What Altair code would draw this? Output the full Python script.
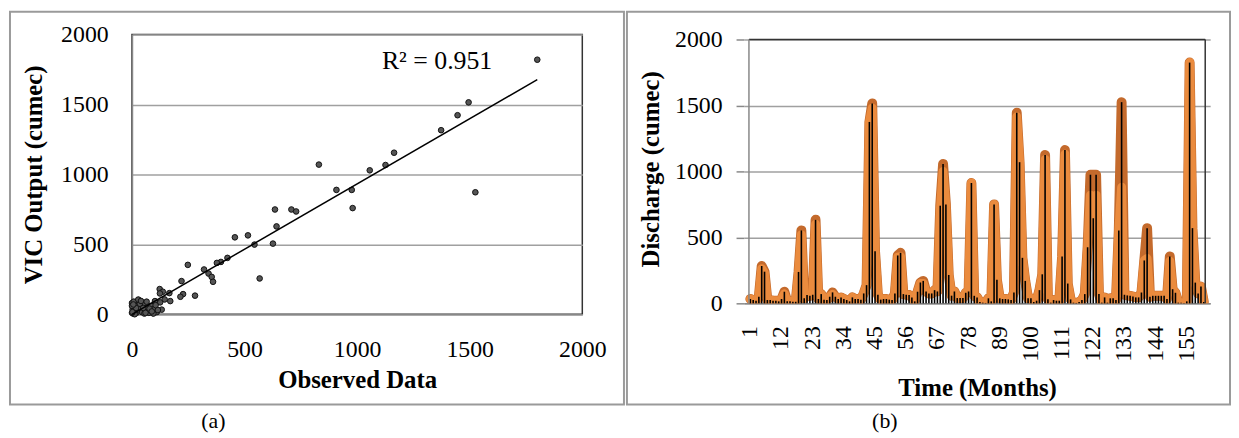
import altair as alt
import pandas as pd

FONT = "Liberation Serif"

# ---------------- (a) scatter data ----------------
scatter_observed = [1800, 1495, 1446, 1373, 1525, 1164, 1126, 1056, 830, 908,
                    976, 980, 635, 708, 729, 642, 626, 544, 515, 457,
                    567, 424, 395, 377, 320, 340, 354, 360, 248, 220,
                    280, 227, 215, 123, 137, 166, 124, 145, 170, 125,
                    102, 132, 93, 29, 0,
                    5, 10, 15, 20, 25, 30, 40, 45, 50, 60,
                    70, 75, 80, 85, 90, 100, 110, 5, 8, 3,
                    12, 18, 35, 55, 65, 95, 0, 0, 28, 40,
                    2, 6, 50, 60, 115, 105, 78, 88]
scatter_vic = [1820, 1515, 1423, 1316, 872, 1155, 1067, 1029, 1070, 889,
               889, 759, 749, 749, 735, 628, 505, 498, 564, 550,
               256, 403, 374, 367, 320, 291, 267, 232, 353, 237,
               133, 144, 125, 180, 161, 151, 149, 106, 94, 85,
               94, 33, 8, 101, 80,
               20, 50, 80, 10, 60, 30, 40, 15, 70, 25,
               50, 10, 30, 60, 20, 40, 15, 5, 90, 35,
               0, 45, 75, 5, 90, 5, 60, 10, 105, 95,
               15, 70, 45, 10, 30, 65, 40, 20]
axis_ticks = [0, 500, 1000, 1500, 2000]
r2_label = "R² = 0.951"

# ---------------- (b) time series data ----------------
discharge_bars = [33, 25, 20, 50, 283, 240, 25, 25, 20, 20,
                  15, 33, 88, 15, 15, 12, 12, 238, 553, 38,
                  63, 57, 65, 633, 33, 70, 28, 25, 50, 83,
                  50, 33, 45, 33, 25, 15, 45, 33, 33, 28,
                  75, 138, 1375, 1515, 395, 65, 28, 33, 33, 28,
                  25, 75, 363, 383, 70, 65, 63, 45, 15, 88,
                  158, 170, 90, 75, 75, 100, 90, 740, 1057, 750,
                  215, 58, 90, 40, 40, 40, 80, 90, 912, 57,
                  45, 10, 5, 3, 38, 15, 750, 178, 38, 33,
                  33, 30, 25, 82, 1445, 1070, 345, 170, 38, 38,
                  10, 20, 100, 220, 1125, 30, 5, 25, 20, 20,
                  355, 1162, 150, 30, 5, 3, 10, 25, 70, 425,
                  975, 645, 975, 70, 5, 45, 5, 38, 38, 25,
                  552, 1525, 65, 60, 57, 52, 45, 45, 82, 325,
                  570, 50, 57, 57, 57, 57, 57, 33, 355, 107,
                  80, 5, 5, 3, 15, 1825, 570, 157, 75, 127,
                  10]
observed_line = [33, 25, 20, 50, 283, 240, 25, 25, 20, 20,
                 15, 33, 88, 15, 15, 12, 12, 238, 553, 38,
                 63, 57, 65, 633, 33, 70, 28, 25, 50, 83,
                 50, 33, 45, 33, 25, 15, 45, 33, 33, 28,
                 75, 138, 1375, 1515, 395, 65, 28, 33, 33, 28,
                 25, 75, 363, 383, 70, 65, 63, 45, 15, 88,
                 158, 170, 90, 75, 75, 100, 90, 740, 1057, 750,
                 215, 58, 90, 40, 40, 40, 80, 90, 912, 57,
                 45, 10, 5, 3, 38, 15, 750, 178, 38, 33,
                 33, 30, 25, 82, 1445, 1070, 345, 170, 38, 38,
                 10, 20, 100, 220, 1125, 30, 5, 25, 20, 20,
                 355, 1162, 150, 30, 5, 3, 10, 25, 70, 425,
                 975, 975, 975, 70, 5, 45, 5, 38, 38, 25,
                 552, 1525, 65, 60, 57, 52, 45, 45, 82, 325,
                 570, 50, 57, 57, 57, 57, 57, 33, 355, 107,
                 80, 5, 5, 3, 15, 1825, 570, 157, 75, 127,
                 10]
vic_line = [33, 25, 20, 50, 262, 230, 25, 25, 20, 20,
            15, 33, 72, 15, 15, 12, 12, 230, 520, 38,
            63, 57, 65, 600, 33, 70, 28, 25, 50, 68,
            50, 33, 45, 33, 25, 15, 45, 33, 33, 28,
            75, 138, 1375, 1480, 395, 65, 28, 33, 33, 28,
            25, 75, 350, 355, 70, 65, 63, 45, 15, 88,
            150, 150, 90, 75, 75, 100, 90, 700, 1000, 740,
            215, 58, 90, 40, 40, 40, 80, 90, 912, 57,
            45, 10, 5, 3, 38, 15, 750, 178, 38, 33,
            33, 30, 25, 82, 1415, 1070, 345, 170, 38, 38,
            10, 20, 100, 220, 1090, 30, 5, 25, 20, 20,
            355, 1130, 150, 30, 5, 3, 10, 25, 70, 425,
            820, 640, 820, 70, 5, 45, 5, 38, 38, 25,
            552, 880, 65, 60, 57, 52, 45, 45, 82, 325,
            340, 50, 57, 57, 57, 57, 57, 33, 320, 107,
            80, 5, 5, 3, 15, 1825, 570, 157, 75, 127,
            10]
month_ticks = [1, 12, 23, 34, 45, 56, 67, 78, 89, 100, 111, 122, 133, 144, 155]

# ---------------- tables ----------------
scatter_df = pd.DataFrame({"obs": scatter_observed, "vic": scatter_vic})
bars_df = pd.DataFrame({"month": list(range(1, len(discharge_bars) + 1)), "value": discharge_bars})
obs_df = pd.DataFrame({"month": list(range(1, len(observed_line) + 1)), "value": observed_line})
vic_df = pd.DataFrame({"month": list(range(1, len(vic_line) + 1)), "value": vic_line})
tick_df = pd.DataFrame({"month": month_ticks, "label": [str(m) for m in month_ticks]})
one = pd.DataFrame({"k": [0]})
n_months = len(discharge_bars)

BORDER = "#9a9a9a"
FRAME = "#333333"
AXISGREY = "#888888"

# ---------------- (a) ----------------
xs_a = alt.Scale(domain=[0, 2000], nice=False)
ys_a = alt.Scale(domain=[0, 2000], nice=False)

points = alt.Chart(scatter_df).mark_point(
    filled=True, size=32, color="#555555", stroke="#111111", strokeWidth=1, opacity=1
).encode(
    x=alt.X("obs:Q", scale=xs_a, axis=alt.Axis(
        title="Observed Data", values=axis_ticks, format="d", grid=False, ticks=False, tickSize=0,
        labelFlush=False, labelPadding=24, titlePadding=6)),
    y=alt.Y("vic:Q", scale=ys_a, axis=alt.Axis(
        title="VIC Output (cumec)", values=axis_ticks, format="d", grid=True, ticks=False, tickSize=0,
        labelFlush=False, labelPadding=24, titlePadding=14)),
)
trend = alt.Chart(scatter_df).transform_regression("obs", "vic").mark_line(
    color="black", strokeWidth=1.5
).encode(x=alt.X("obs:Q", scale=xs_a), y=alt.Y("vic:Q", scale=ys_a))
r2 = alt.Chart(one).mark_text(font=FONT, fontSize=26, color="black").encode(
    x=alt.datum(1355), y=alt.datum(1808), text=alt.value(r2_label))
frame_a = alt.Chart(one).mark_rect(fillOpacity=0, stroke=BORDER, strokeWidth=2).encode(
    x=alt.value(-123), x2=alt.value(496), y=alt.value(-23), y2=alt.value(373))
cap_a = alt.Chart(one).mark_text(font=FONT, fontSize=22, color="black").encode(
    x=alt.value(82), y=alt.value(390), text=alt.value("(a)"))

left = alt.layer(frame_a, points, trend, r2, cap_a).properties(width=454, height=282)

# ---------------- (b) ----------------
# plot area is 5px taller than the framed region so its top sits 5px below panel (a)'s
PLOT_H_B = 271
top_b = 2000 * PLOT_H_B / 266
xs_b = alt.Scale(domain=[0.5, n_months + 0.5], nice=False, zero=False)
ys_b = alt.Scale(domain=[0, top_b], nice=False)

x_axis_b = alt.Axis(
    title="Time (Months)", values=month_ticks, labels=False, grid=False,
    ticks=False, tickSize=0, titlePadding=73)
y_axis_b = alt.Axis(
    title="Discharge (cumec)", values=axis_ticks, format="d", grid=True, ticks=True, tickSize=8,
    domain=False, labelFlush=False, tickColor=AXISGREY, tickWidth=1.5, labelPadding=14,
    titlePadding=11)
x_b = alt.X("month:Q", scale=xs_b, axis=x_axis_b)
y_b = alt.Y("value:Q", scale=ys_b, axis=y_axis_b)

obs_l = alt.Chart(obs_df).mark_line(
    color="#C46A2C", strokeWidth=10, strokeJoin="round", strokeCap="round", clip=True
).encode(x=x_b, y=y_b)
vic_l = alt.Chart(vic_df).mark_line(
    color="#EA8B3E", strokeWidth=9, strokeJoin="round", strokeCap="round", clip=True
).encode(x=x_b, y=y_b)
bars = alt.Chart(bars_df).mark_bar(color="black", size=1.6).encode(x=x_b, y=y_b)

month_labels = alt.Chart(tick_df).mark_text(
    font=FONT, fontSize=24, angle=270, align="right", baseline="middle", color="black"
).encode(x=alt.X("month:Q", scale=xs_b), y=alt.value(PLOT_H_B + 23), text="label:N")

frame_top = alt.Chart(one).mark_rule(color=FRAME, strokeWidth=1.5).encode(
    x=alt.datum(0.5, scale=xs_b), x2=alt.datum(n_months + 0.5), y=alt.datum(2000, scale=ys_b))
frame_right = alt.Chart(one).mark_rule(color=FRAME, strokeWidth=1.5).encode(
    x=alt.datum(n_months + 0.5, scale=xs_b), y=alt.datum(0, scale=ys_b), y2=alt.datum(2000))
frame_left = alt.Chart(one).mark_rule(color=AXISGREY, strokeWidth=1.5).encode(
    x=alt.datum(0.5, scale=xs_b), y=alt.datum(0, scale=ys_b), y2=alt.datum(2000))

frame_b = alt.Chart(one).mark_rect(fillOpacity=0, stroke=BORDER, strokeWidth=2).encode(
    x=alt.value(-118), x2=alt.value(490), y=alt.value(-23), y2=alt.value(373))
cap_b = alt.Chart(one).mark_text(font=FONT, fontSize=22, color="black").encode(
    x=alt.value(142), y=alt.value(390), text=alt.value("(b)"))

right = alt.layer(
    frame_b, obs_l, vic_l, bars, frame_top, frame_right, frame_left, month_labels, cap_b
).properties(width=470, height=PLOT_H_B, view=alt.ViewConfig(strokeOpacity=0))

chart = alt.concat(left, right, columns=2, spacing=0, align="none", bounds="full").properties(
    padding=0, background="white"
).configure_view(
    stroke=FRAME, strokeWidth=1.5
).configure_axis(
    labelFont=FONT, titleFont=FONT, labelFontSize=24, titleFontSize=25,
    labelColor="black", titleColor="black", titleFontWeight="bold",
    domainColor=AXISGREY, domainWidth=1.5, gridColor="#a0a0a0", gridWidth=1.5
)

chart.save("out.html", embed_options={"renderer": "svg", "actions": False})
